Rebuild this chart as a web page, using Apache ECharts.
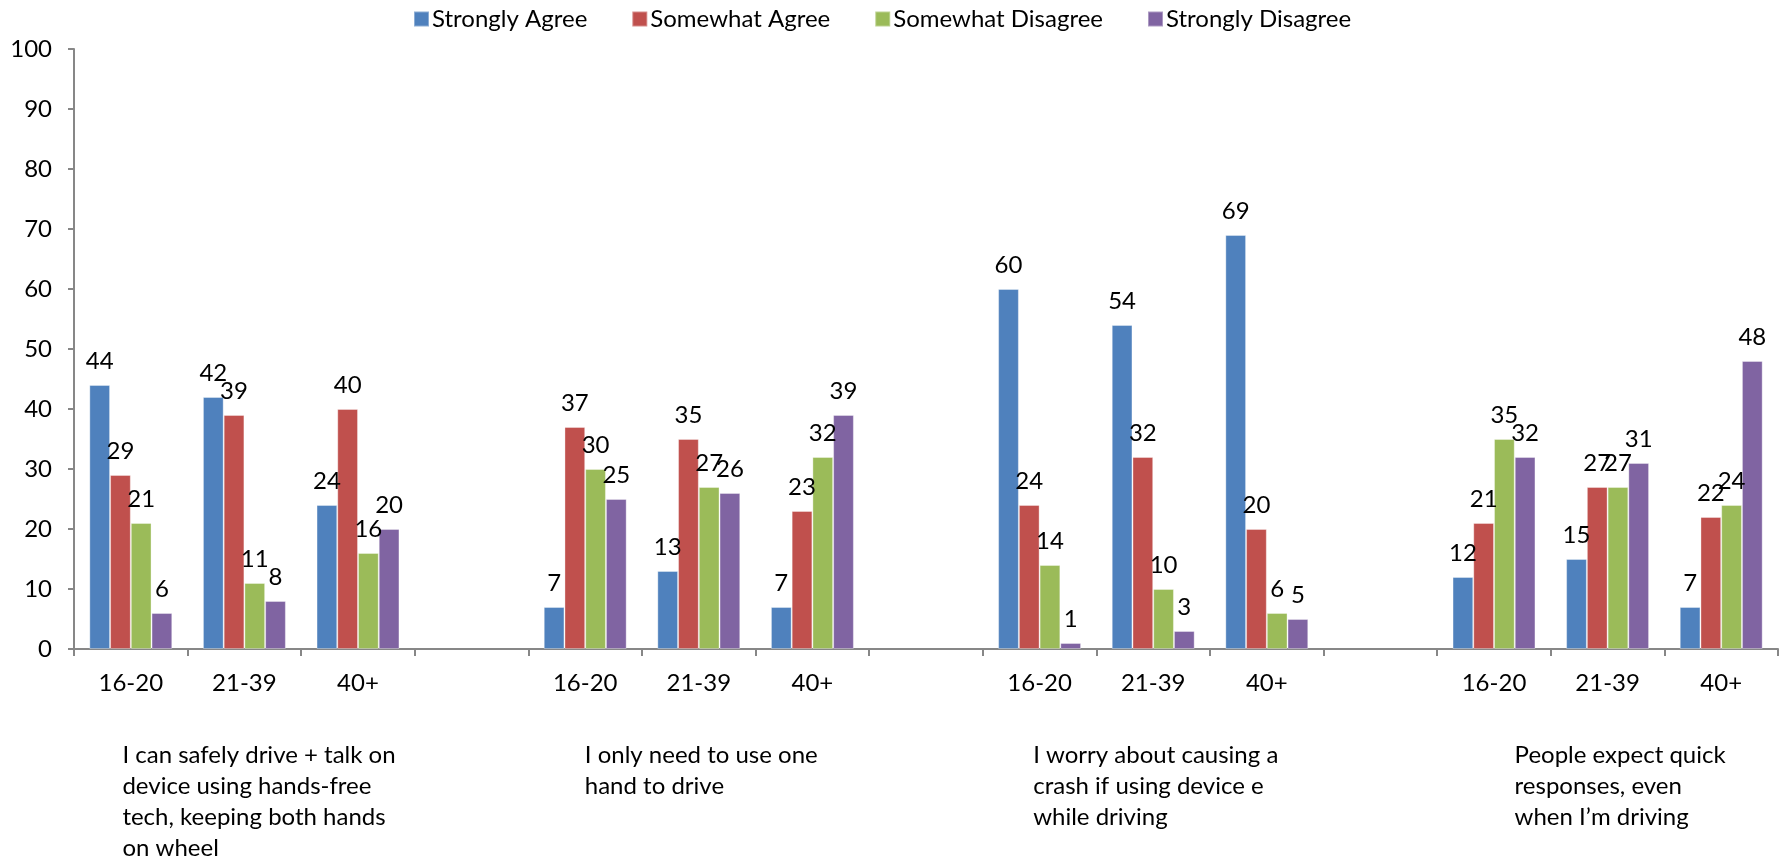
<!DOCTYPE html>
<html>
<head>
<meta charset="utf-8">
<script src="https://cdn.jsdelivr.net/npm/echarts@6/dist/echarts.min.js"></script>
<style>
html,body{margin:0;padding:0;background:#fff;}
#c{width:1785px;height:861px;}
</style>
</head>
<body>
<div id="c"></div>
<script>
// ---- data ----
const ageCategories = ['16-20','21-39','40+','','16-20','21-39','40+','','16-20','21-39','40+','','16-20','21-39','40+'];
const groupLabels = [
  ['I can safely drive + talk on','device using hands-free','tech, keeping both hands','on wheel'],
  ['I only need to use one','hand to drive'],
  ['I worry about causing a','crash if using device e','while driving'],
  ['People expect quick','responses, even','when I\u2019m driving']
];
const groupLabelIndex = [1, 5, 9, 13];
const seriesNames = ['Strongly Agree','Somewhat Agree','Somewhat Disagree','Strongly Disagree'];
const stronglyAgree    = [44, 42, 24, null, 7, 13, 7, null, 60, 54, 69, null, 12, 15, 7];
const somewhatAgree    = [29, 39, 40, null, 37, 35, 23, null, 24, 32, 20, null, 21, 27, 22];
const somewhatDisagree = [21, 11, 16, null, 30, 27, 32, null, 14, 10, 6, null, 35, 27, 24];
const stronglyDisagree = [6, 8, 20, null, 25, 26, 39, null, 1, 3, 5, null, 32, 31, 48];
const yTicks = {min: 0, max: 100, interval: 10};

// ---- chart ----
const FONT = 'Lato';
const FS = 24;
const colors = ['#4F81BD','#C0504D','#9BBB59','#8064A2'];
const values = [stronglyAgree, somewhatAgree, somewhatDisagree, stronglyDisagree];
const groupWidths = [244, 228, 240, 186];

const groupAxisData = ageCategories.map((_, i) => {
  const g = groupLabelIndex.indexOf(i);
  return g < 0 ? '' : String(g);
});
const rich = {};
groupWidths.forEach((w, g) => {
  rich['g' + g] = {width: w, align: 'left', fontFamily: FONT, fontSize: FS, lineHeight: 31, color: '#000'};
});

const chart = echarts.init(document.getElementById('c'));
chart.setOption({
  backgroundColor: '#fff',
  animation: false,
  color: colors,
  textStyle: {fontFamily: FONT},
  legend: {
    data: seriesNames,
    top: 2,
    left: 408,
    itemWidth: 15,
    itemHeight: 15,
    itemGap: 44,
    icon: 'rect',
    textStyle: {fontFamily: FONT, fontSize: FS, color: '#000', padding: [0,0,0,-2]}
  },
  grid: {left: 74, right: 7, top: 49, bottom: 212, containLabel: false, outerBoundsMode: 'none'},
  xAxis: [
    {
      type: 'category',
      data: ageCategories,
      axisLine: {lineStyle: {color: '#878787', width: 2}},
      axisTick: {show: true, length: 7, interval: 0, lineStyle: {color: '#878787', width: 2}},
      axisLabel: {interval: 0, margin: 22, fontFamily: FONT, fontSize: FS, color: '#000'},
      splitLine: {show: false}
    },
    {
      type: 'category',
      position: 'bottom',
      data: groupAxisData,
      axisLine: {show: false},
      axisTick: {show: false},
      splitLine: {show: false},
      axisLabel: {
        interval: 0,
        margin: 91,
        fontFamily: FONT, fontSize: FS, color: '#000',
        formatter: function (v) {
          if (v === '') return '';
          const g = +v;
          return groupLabels[g].map(l => '{g' + g + '|' + l + '}').join('\n');
        },
        rich: rich
      }
    }
  ],
  yAxis: {
    type: 'value',
    min: yTicks.min, max: yTicks.max, interval: yTicks.interval,
    axisLine: {show: true, lineStyle: {color: '#878787', width: 2}},
    axisTick: {show: true, length: 6, lineStyle: {color: '#878787', width: 2}},
    axisLabel: {margin: 22, fontFamily: FONT, fontSize: FS, color: '#000'},
    splitLine: {show: false}
  },
  series: seriesNames.map((name, k) => ({
    name: name,
    type: 'bar',
    xAxisIndex: 0,
    data: values[k],
    barGap: '0%',
    barCategoryGap: '27%',
    itemStyle: {color: colors[k], borderColor: 'rgba(255,255,255,0.35)', borderWidth: 1},
    label: {
      show: true,
      position: 'top',
      distance: 12,
      fontFamily: FONT, fontSize: FS, color: '#000'
    }
  }))
});
</script>
</body>
</html>
